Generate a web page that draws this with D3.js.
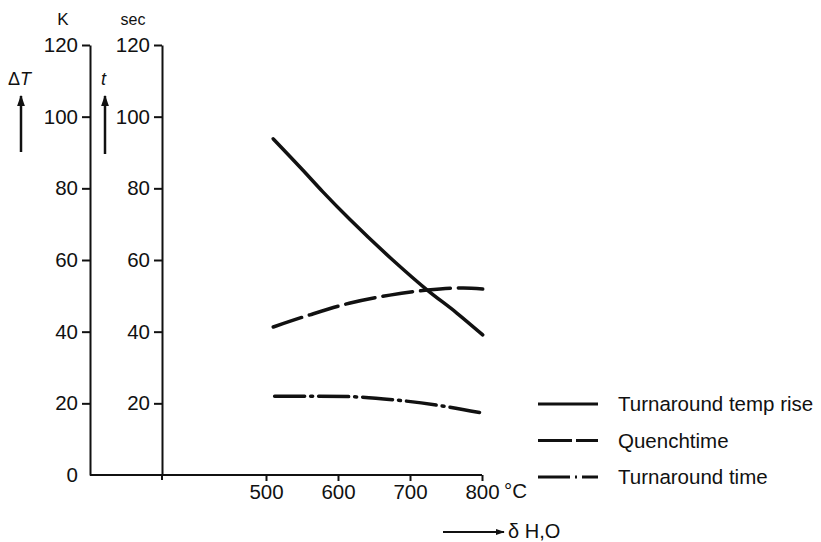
<!DOCTYPE html>
<html>
<head>
<meta charset="utf-8">
<script src="https://cdn.jsdelivr.net/npm/d3@7"></script>
<style>
    body { margin: 0; background: #fff; }
    svg { display: block; }
    text { font-family: "Liberation Sans", Arial, sans-serif; fill: #111; }
    .tick text { font-size: 20.5px; }
    .tick line, .domain { stroke: #111; stroke-width: 2; }
    .curve { fill: none; stroke: #111; stroke-width: 3.5; stroke-linecap: round; }
    .legend-text { font-size: 20.5px; }
</style>
</head>
<body>
<div id="chart"></div>
<script>
// temperature of the steam (°C)
const tempRiseX = [510, 551, 579, 617, 676, 724, 765, 801];
const tempRiseY = [93.8, 85.1, 79.0, 71.2, 60.0, 51.6, 45.2, 39.1];

const quenchX = [510, 561, 617, 672, 724, 774, 801];
const quenchY = [41.3, 44.7, 48.0, 50.2, 51.6, 52.2, 51.9];

const turnTimeX = [512, 571, 626, 682, 737, 800];
const turnTimeY = [22.0, 22.0, 21.8, 20.9, 19.5, 17.3];

const xTicks = [500, 600, 700, 800];
const kTicks = [0, 20, 40, 60, 80, 100, 120];
const secTicks = [20, 40, 60, 80, 100, 120];

const seriesNames = ['Turnaround temp rise', 'Quenchtime', 'Turnaround time'];

function steamChart() {

    let width = 821,
        height = 542,

        // positions of the two vertical axes
        kAxisX = 90,
        secAxisX = 162,

        // dash styles for each series
        dashes = [null, '30 8', '30 6 2 6'];

    function chart(selector) {

        let xScale = d3.scaleLinear()
                .domain([500, 800])
                .range([266, 482]),

            yScale = d3.scaleLinear()
                .domain([0, 120])
                .range([475, 45]),

            svg = d3.select(selector)
                .append('svg')
                .attr('width', width)
                .attr('height', height),

            line = d3.line()
                .x(d => xScale(d[0]))
                .y(d => yScale(d[1]))
                .curve(d3.curveMonotoneX);

        // arrow head marker
        svg.append('defs').append('marker')
            .attr('id', 'arrow')
            .attr('viewBox', '0 0 10 10')
            .attr('refX', 9).attr('refY', 5)
            .attr('markerWidth', 4.5).attr('markerHeight', 4.5)
            .attr('markerUnits', 'strokeWidth')
            .attr('orient', 'auto')
            .append('path')
            .attr('d', 'M0,1.5L10,5L0,8.5z')
            .attr('fill', '#111');

        // baseline along the bottom
        svg.append('line')
            .attr('x1', kAxisX).attr('x2', xScale(800))
            .attr('y1', yScale(0)).attr('y2', yScale(0))
            .attr('stroke', '#111').attr('stroke-width', 2);

        // K axis
        svg.append('g')
            .attr('transform', `translate(${kAxisX},0)`)
            .call(d3.axisLeft(yScale).tickValues(kTicks).tickSize(8).tickPadding(4).tickSizeOuter(0))
            .call(g => g.selectAll('.tick').filter(d => d === 0).select('line').remove());

        // sec axis, reaches a little below the baseline
        svg.append('g')
            .attr('transform', `translate(${secAxisX},0)`)
            .call(d3.axisLeft(yScale).tickValues(secTicks).tickSize(8).tickPadding(4).tickSizeOuter(0));
        svg.append('line')
            .attr('x1', secAxisX).attr('x2', secAxisX)
            .attr('y1', yScale(0)).attr('y2', yScale(0) + 5)
            .attr('stroke', '#111').attr('stroke-width', 2);

        // x axis ticks
        svg.append('g')
            .attr('transform', `translate(0,${yScale(0)})`)
            .call(d3.axisBottom(xScale).tickValues(xTicks).tickSize(6).tickPadding(3).tickSizeOuter(0))
            .call(g => g.select('.domain').remove());

        // unit labels
        svg.append('text')
            .attr('x', 63).attr('y', 25)
            .attr('text-anchor', 'middle')
            .style('font-size', '17px')
            .text('K');
        svg.append('text')
            .attr('x', 133).attr('y', 25)
            .attr('text-anchor', 'middle')
            .style('font-size', '16px')
            .text('sec');
        svg.append('text')
            .attr('x', xScale(800) + 22).attr('y', 498)
            .style('font-size', '20.5px')
            .text('°C');

        // axis titles with arrows
        let dt = svg.append('text')
            .attr('x', 8).attr('y', 85)
            .style('font-size', '18px');
        dt.append('tspan').text('Δ');
        dt.append('tspan').style('font-style', 'italic').text('T');

        svg.append('text')
            .attr('x', 101).attr('y', 85)
            .style('font-size', '18px')
            .style('font-style', 'italic')
            .text('t');

        [[21, 152, 96], [105, 154, 96]].forEach(a => {
            svg.append('line')
                .attr('x1', a[0]).attr('x2', a[0])
                .attr('y1', a[1]).attr('y2', a[2])
                .attr('stroke', '#111').attr('stroke-width', 2.5)
                .attr('marker-end', 'url(#arrow)');
        });

        svg.append('line')
            .attr('x1', 443).attr('x2', 504)
            .attr('y1', 532).attr('y2', 532)
            .attr('stroke', '#111').attr('stroke-width', 2)
            .attr('marker-end', 'url(#arrow)');
        svg.append('text')
            .attr('x', 508).attr('y', 538)
            .style('font-size', '20px')
            .text('δ H,O');

        // curves
        let series = [
            d3.zip(tempRiseX, tempRiseY),
            d3.zip(quenchX, quenchY),
            d3.zip(turnTimeX, turnTimeY)
        ];

        svg.selectAll('.curve')
            .data(series).enter()
            .append('path')
            .classed('curve', true)
            .attr('stroke-dasharray', (d, i) => dashes[i])
            .attr('d', line);

        // legend
        let legend = svg.selectAll('.legend')
            .data(seriesNames).enter()
            .append('g')
            .attr('transform', (d, i) => `translate(538,${404 + i * 36.5})`);

        legend.append('line')
            .attr('x1', 0).attr('x2', 60)
            .attr('stroke', '#111')
            .attr('stroke-width', 3)
            .attr('stroke-dasharray', (d, i) => [null, '34 4 22', '32 5 2 5 22'][i]);

        legend.append('text')
            .classed('legend-text', true)
            .attr('x', 80)
            .attr('dy', '0.35em')
            .text(d => d);

        return chart;
    }

    return chart;
}

steamChart()('#chart');
</script>
</body>
</html>
